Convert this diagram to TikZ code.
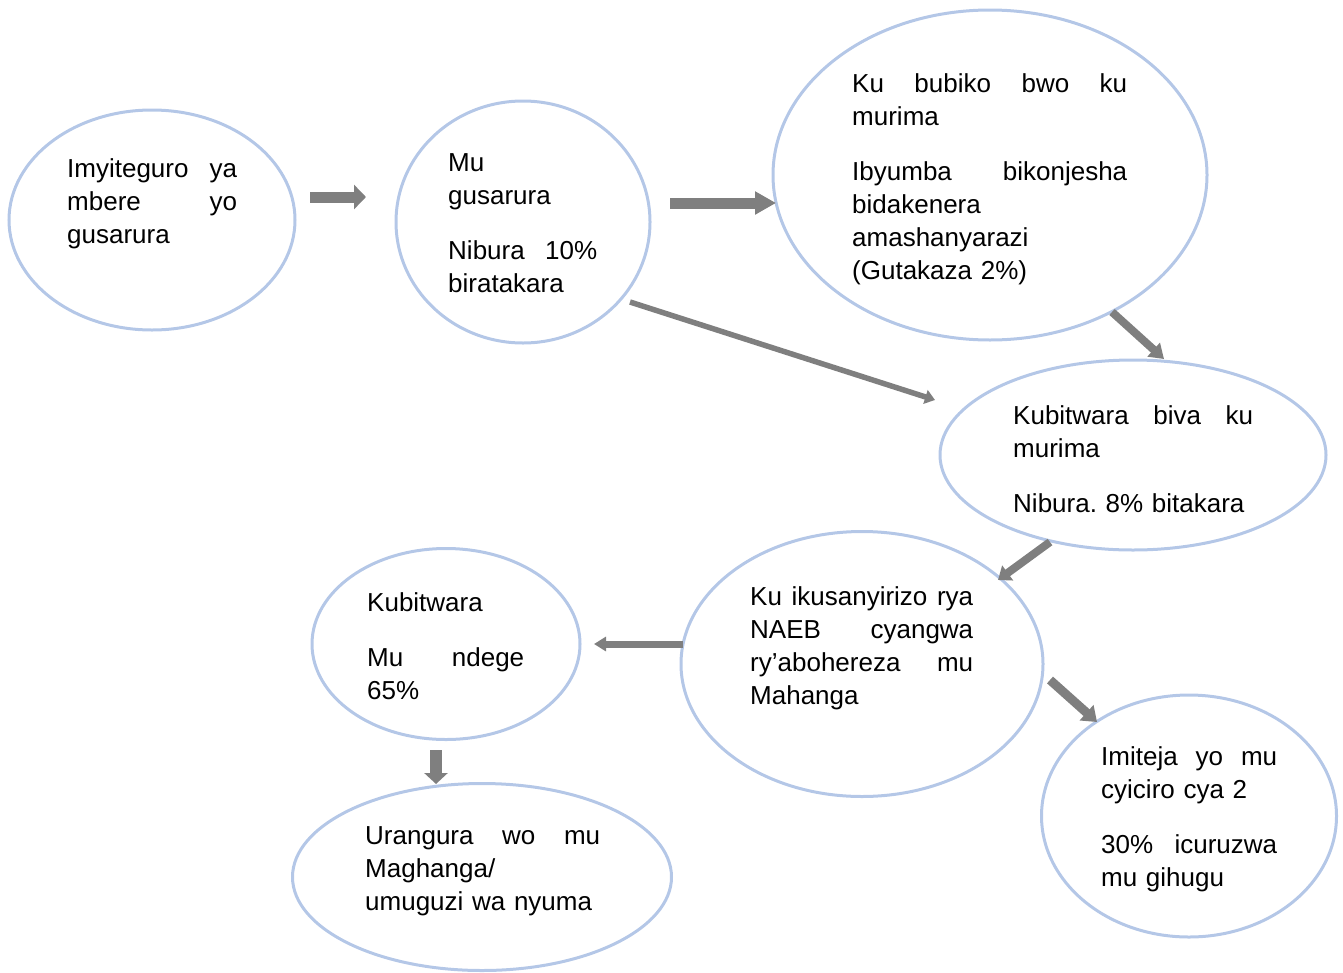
\documentclass[tikz,border=0pt]{standalone}
\usepackage{fontspec}
\setmainfont{Liberation Sans}
\usetikzlibrary{shapes.geometric,arrows.meta}
\definecolor{ellblue}{HTML}{B4C7E7}
\definecolor{arrgray}{HTML}{7F7F7F}
\newcommand{\jl}[1]{\leavevmode\hbox to\hsize{#1}}
\frenchspacing
\begin{document}
\begin{tikzpicture}[x=1pt,y=-1pt,
    oval/.style n args={2}{ellipse,draw=ellblue,line width=3pt,inner sep=0pt,minimum width=#1,minimum height=#2},
    txt/.style={anchor=base west,inner sep=0pt,text width=#1,font=\fontsize{26}{33}\selectfont},
    arr/.style n args={3}{draw=arrgray,line width=#1,-{Triangle[length=#2,width=#3]}}]
  \useasboundingbox (0,0) rectangle (1343,972);
  % ovals
  \node[oval={286pt}{220pt}] (e1) at (152,220) {};
  \node[oval={254pt}{242pt}] (e2) at (523,222) {};
  \node[oval={434pt}{330pt}] (e3) at (990,175) {};
  \node[oval={386pt}{190pt}] (e4) at (1133,455) {};
  \node[oval={362pt}{265pt}] (e5) at (862,664) {};
  \node[oval={268pt}{191pt}] (e6) at (446,644) {};
  \node[oval={379pt}{187pt}] (e7) at (482,877) {};
  \node[oval={295pt}{242pt}] (e8) at (1189,816) {};
  % texts
  \node[txt=170pt] (t1) at (67,177) {\jl{Imyiteguro\hfill ya}\\\jl{mbere\hfill yo}\\gusarura};
  \node[txt=149pt] (t2) at (448,171) {Mu\\gusarura\\[22pt]\jl{Nibura\hfill 10\%}\\biratakara};
  \node[txt=275pt] (t3) at (852,92) {\jl{Ku\hfill bubiko\hfill bwo\hfill ku}\\murima\\[22pt]\jl{Ibyumba\hfill bikonjesha}\\bidakenera\\amashanyarazi\\(Gutakaza 2\%)};
  \node[txt=240pt] (t4) at (1013,424) {\jl{Kubitwara\hfill biva\hfill ku}\\murima\\[22pt]Nibura. 8\% bitakara};
  \node[txt=223pt] (t5) at (750,605) {\jl{Ku\hfill ikusanyirizo\hfill rya}\\\jl{NAEB\hfill cyangwa}\\\jl{ry’abohereza\hfill mu}\\Mahanga};
  \node[txt=157pt] (t6) at (367,611) {Kubitwara\\[22pt]\jl{Mu\hfill ndege}\\65\%};
  \node[txt=235pt] (t7) at (365,844) {\jl{Urangura\hfill wo\hfill mu}\\Maghanga/\\umuguzi wa nyuma};
  \node[txt=176pt] (t8) at (1101,765) {\jl{Imiteja\hfill yo\hfill mu}\\cyiciro cya 2\\[22pt]\jl{30\%\hfill icuruzwa}\\mu gihugu};
  % arrow ends
  \coordinate (a1s) at (310,197);  \coordinate (a1e) at (366,197);
  \coordinate (a2s) at (670,203);  \coordinate (a2e) at (776,203);
  \coordinate (a3s) at (630,302);  \coordinate (a3e) at (935,400);
  \coordinate (a4s) at (1112,312); \coordinate (a4e) at (1164,359);
  \coordinate (a5s) at (1050,542); \coordinate (a5e) at (998,580);
  \coordinate (a6s) at (683,644);  \coordinate (a6e) at (594,644);
  \coordinate (a7s) at (436,750);  \coordinate (a7e) at (436,784);
  \coordinate (a8s) at (1050,680); \coordinate (a8e) at (1097,722);
  \draw[arr={11pt}{12pt}{24pt}] (a1s) -- (a1e);
  \draw[arr={11pt}{21pt}{22pt}] (a2s) -- (a2e);
  \draw[arr={5.5pt}{10pt}{14pt}] (a3s) -- (a3e);
  \draw[arr={8pt}{14pt}{18pt}] (a4s) -- (a4e);
  \draw[arr={8pt}{12pt}{18pt}] (a5s) -- (a5e);
  \draw[arr={7pt}{12pt}{14pt}] (a6s) -- (a6e);
  \draw[arr={12pt}{11pt}{23pt}] (a7s) -- (a7e);
  \draw[arr={9pt}{14pt}{20pt}] (a8s) -- (a8e);
\end{tikzpicture}
\end{document}
